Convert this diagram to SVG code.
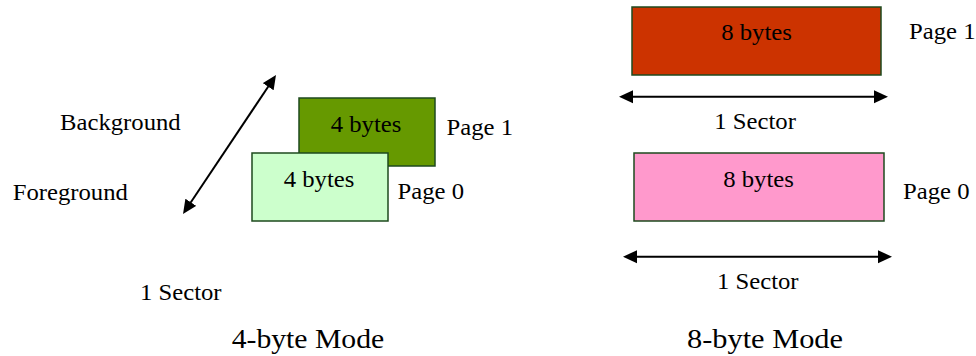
<svg xmlns="http://www.w3.org/2000/svg" width="976" height="356" viewBox="0 0 976 356">
  <style>
    text { font-family: "Liberation Serif", "Times New Roman", serif; font-size: 23px; fill: #000; }
    .title { font-size: 28px; }
    .mid { text-anchor: middle; }
    .box { stroke: #1e4a1e; stroke-width: 1.5; }
    .arrow { stroke: #000; stroke-width: 2; fill: none; marker-start: url(#head); marker-end: url(#head); }
  </style>
  <defs>
    <marker id="head" markerUnits="userSpaceOnUse" markerWidth="16" markerHeight="14" refX="2" refY="6.5" orient="auto-start-reverse" viewBox="0 0 16 13">
      <path d="M0,0 L14,6.5 L0,13 Z" fill="#000"/>
    </marker>
  </defs>

  <rect width="976" height="356" fill="#fff"/>

  <!-- 4-byte mode: two stacked pages -->
  <g id="page1-4byte">
    <rect class="box" x="299" y="98" width="136" height="68" fill="#669900"/>
    <text class="mid" x="366" y="132" textLength="70.7" lengthAdjust="spacingAndGlyphs">4 bytes</text>
    <text x="446.5" y="135" textLength="66.5" lengthAdjust="spacingAndGlyphs">Page 1</text>
  </g>
  <g id="page0-4byte">
    <rect class="box" x="252" y="153" width="136" height="68" fill="#ccffcc"/>
    <text class="mid" x="319" y="186.5" textLength="70.7" lengthAdjust="spacingAndGlyphs">4 bytes</text>
    <text x="397.5" y="199" textLength="66.5" lengthAdjust="spacingAndGlyphs">Page 0</text>
  </g>
  <g id="labels-4byte">
    <text x="60" y="130" textLength="120.7" lengthAdjust="spacingAndGlyphs">Background</text>
    <text x="12.7" y="200" textLength="115.2" lengthAdjust="spacingAndGlyphs">Foreground</text>
    <text x="140" y="300" textLength="81.6" lengthAdjust="spacingAndGlyphs">1 Sector</text>
    <text class="title" x="231.7" y="348" textLength="152.5" lengthAdjust="spacingAndGlyphs">4-byte Mode</text>
  </g>

  <!-- 8-byte mode: two full-sector pages -->
  <g id="page1-8byte">
    <rect class="box" x="632" y="7" width="249" height="68" fill="#cc3300"/>
    <text class="mid" x="756.5" y="40" textLength="70.7" lengthAdjust="spacingAndGlyphs">8 bytes</text>
    <text x="909" y="38.5" textLength="66.5" lengthAdjust="spacingAndGlyphs">Page 1</text>
  </g>
  <g id="page0-8byte">
    <rect class="box" x="634" y="153" width="250" height="68" fill="#ff99cc"/>
    <text class="mid" x="758.5" y="186.5" textLength="70.7" lengthAdjust="spacingAndGlyphs">8 bytes</text>
    <text x="903" y="199" textLength="66.5" lengthAdjust="spacingAndGlyphs">Page 0</text>
  </g>
  <g id="labels-8byte">
    <text x="714.3" y="129" textLength="81.6" lengthAdjust="spacingAndGlyphs">1 Sector</text>
    <text x="717" y="288.5" textLength="81.6" lengthAdjust="spacingAndGlyphs">1 Sector</text>
    <text class="title" x="687" y="348" textLength="156" lengthAdjust="spacingAndGlyphs">8-byte Mode</text>
  </g>

  <!-- connectors: double-headed dimension arrows -->
  <g id="connectors">
    <line class="arrow" x1="189.7" y1="204" x2="269.3" y2="85"/>
    <line class="arrow" x1="631" y1="96.7" x2="876" y2="96.7"/>
    <line class="arrow" x1="635" y1="256.7" x2="880" y2="256.7"/>
  </g>
</svg>
